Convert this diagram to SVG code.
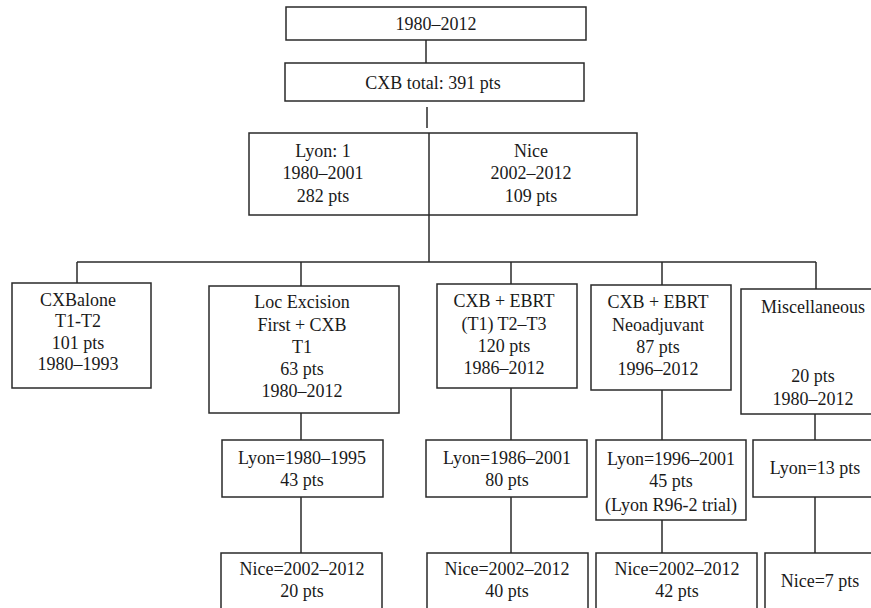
<svg xmlns="http://www.w3.org/2000/svg" width="871" height="608" viewBox="0 0 871 608">
<style>
rect{fill:#fff;stroke:#2a2a2a;stroke-width:1.5}
.c line{stroke:#2a2a2a;stroke-width:1.5}
text{font-size:18px;fill:#1a1a1a;text-anchor:middle}
</style>
<rect x="0" y="0" width="871" height="608" style="stroke:none"/>
<g class="c" id="connectors">
<line x1="426" y1="40" x2="426" y2="63"/>
<line x1="427" y1="107" x2="427" y2="128"/>
<line x1="429" y1="215" x2="429" y2="262"/>
<line x1="77" y1="262" x2="816" y2="262"/>
<line x1="77" y1="262" x2="77" y2="283"/>
<line x1="301" y1="262" x2="301" y2="286"/>
<line x1="511" y1="262" x2="511" y2="284"/>
<line x1="662" y1="262" x2="662" y2="285"/>
<line x1="816" y1="262" x2="816" y2="289"/>
<line x1="301" y1="413" x2="301" y2="440"/>
<line x1="301" y1="497" x2="301" y2="553"/>
<line x1="511" y1="388" x2="511" y2="440"/>
<line x1="511" y1="497" x2="511" y2="553"/>
<line x1="662" y1="390" x2="662" y2="440"/>
<line x1="662" y1="520" x2="662" y2="553"/>
<line x1="815" y1="414" x2="815" y2="440"/>
<line x1="815" y1="497" x2="815" y2="553"/>
</g>
<g font-family="'Liberation Serif', 'DejaVu Serif', serif">
<g id="n-top"><rect x="286" y="7" width="300" height="33"/><text x="436" y="30">1980–2012</text></g>
<g id="n-total"><rect x="285" y="63" width="299" height="38"/><text x="433" y="89">CXB total: 391 pts</text></g>
<g id="n-centres"><rect x="249" y="133" width="388" height="82"/>
<line x1="429" y1="133" x2="429" y2="215" style="stroke:#2a2a2a;stroke-width:1.5"/>
<text x="323" y="157">Lyon: 1</text><text x="323" y="179">1980–2001</text><text x="323" y="202">282 pts</text>
<text x="531" y="157">Nice</text><text x="531" y="179">2002–2012</text><text x="531" y="202">109 pts</text></g>
<g id="n-alone"><rect x="12" y="283" width="139" height="105"/>
<text x="78" y="306">CXBalone</text><text x="78" y="327">T1-T2</text><text x="78" y="349">101 pts</text><text x="78" y="370">1980–1993</text></g>
<g id="n-loc"><rect x="209" y="286" width="190" height="127"/>
<text x="302" y="308">Loc Excision</text><text x="302" y="331">First + CXB</text><text x="302" y="353">T1</text><text x="302" y="375">63 pts</text><text x="302" y="397">1980–2012</text></g>
<g id="n-ebrt"><rect x="437" y="284" width="140" height="104"/>
<text x="504" y="307">CXB + EBRT</text><text x="504" y="330">(T1) T2–T3</text><text x="504" y="352">120 pts</text><text x="504" y="374">1986–2012</text></g>
<g id="n-neo"><rect x="591" y="285" width="140" height="105"/>
<text x="658" y="308">CXB + EBRT</text><text x="658" y="331">Neoadjuvant</text><text x="658" y="353">87 pts</text><text x="658" y="375">1996–2012</text></g>
<g id="n-misc"><rect x="741" y="289" width="140" height="125"/>
<text x="813" y="313">Miscellaneous</text><text x="813" y="382">20 pts</text><text x="813" y="405">1980–2012</text></g>
<g id="n-loc-lyon"><rect x="222" y="440" width="161" height="57"/>
<text x="302" y="464">Lyon=1980–1995</text><text x="302" y="486">43 pts</text></g>
<g id="n-loc-nice"><rect x="221" y="553" width="161" height="65"/>
<text x="302" y="575">Nice=2002–2012</text><text x="302" y="597">20 pts</text></g>
<g id="n-ebrt-lyon"><rect x="426" y="440" width="161" height="57"/>
<text x="507" y="464">Lyon=1986–2001</text><text x="507" y="486">80 pts</text></g>
<g id="n-ebrt-nice"><rect x="427" y="553" width="161" height="65"/>
<text x="507" y="575">Nice=2002–2012</text><text x="507" y="597">40 pts</text></g>
<g id="n-neo-lyon"><rect x="596" y="440" width="150" height="80"/>
<text x="671" y="465">Lyon=1996–2001</text><text x="671" y="487">45 pts</text><text x="671" y="511">(Lyon R96-2 trial)</text></g>
<g id="n-neo-nice"><rect x="596" y="553" width="161" height="65"/>
<text x="677" y="575">Nice=2002–2012</text><text x="677" y="597">42 pts</text></g>
<g id="n-misc-lyon"><rect x="753" y="440" width="130" height="57"/>
<text x="815" y="474">Lyon=13 pts</text></g>
<g id="n-misc-nice"><rect x="765" y="553" width="120" height="65"/>
<text x="820" y="587">Nice=7 pts</text></g>
</g>
</svg>
